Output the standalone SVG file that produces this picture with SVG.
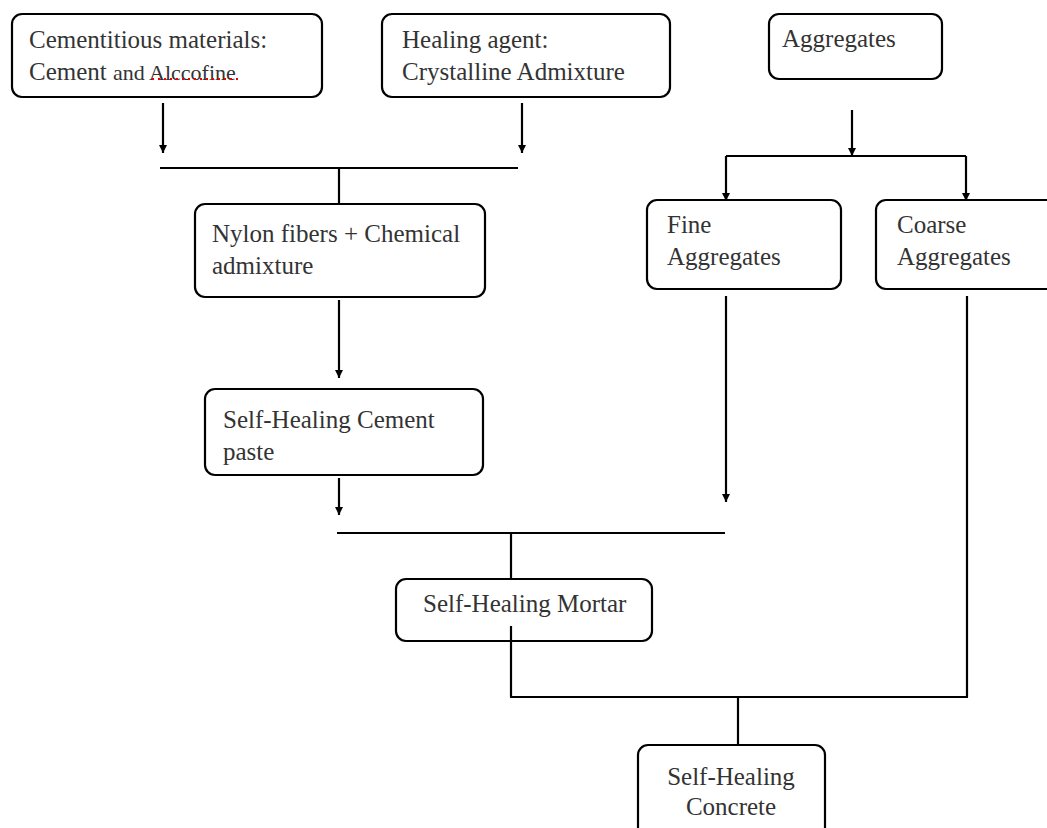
<svg xmlns="http://www.w3.org/2000/svg" width="1047" height="828" viewBox="0 0 1047 828">
<style>
.box{fill:#fff;stroke:#000;stroke-width:2.2}
.t{font-family:"Liberation Serif","Times New Roman",serif;font-size:25px;fill:#333}
.c{fill:none;stroke:#000;stroke-width:2.2}
</style>
<defs>
<marker id="ah" markerUnits="userSpaceOnUse" markerWidth="9" markerHeight="9" refX="8" refY="4.5" orient="auto">
<path d="M0,0.5 L8,4.5 L0,8.5 z" fill="#000"/>
</marker>
</defs>
<rect width="1047" height="828" fill="#fff"/>
<g id="cementitious">
<rect class="box" x="12" y="14" width="310" height="83" rx="10"/>
<text class="t" x="29" y="48">Cementitious materials:</text>
<text class="t" x="29" y="80">Cement <tspan font-size="22">and Alccofine</tspan></text>
<line x1="152" y1="79" x2="238" y2="79" stroke="#e00" stroke-width="2" stroke-dasharray="2,4"/>
</g>
<g id="healing">
<rect class="box" x="382" y="14" width="288" height="83" rx="10"/>
<text class="t" x="402" y="48">Healing agent:</text>
<text class="t" x="402" y="80">Crystalline Admixture</text>
</g>
<g id="aggregates">
<rect class="box" x="769" y="14" width="173" height="65" rx="10"/>
<text class="t" x="782" y="47">Aggregates</text>
</g>
<g id="fine">
<rect class="box" x="647" y="200" width="194" height="89" rx="10"/>
<text class="t" x="667" y="233">Fine</text>
<text class="t" x="667" y="265">Aggregates</text>
</g>
<g id="coarse">
<rect class="box" x="876" y="200" width="190" height="89" rx="10"/>
<text class="t" x="897" y="233">Coarse</text>
<text class="t" x="897" y="265">Aggregates</text>
</g>
<g id="nylon">
<rect class="box" x="195" y="204" width="290" height="93" rx="10"/>
<text class="t" x="212" y="242">Nylon fibers + Chemical</text>
<text class="t" x="212" y="274">admixture</text>
</g>
<g id="paste">
<rect class="box" x="205" y="389" width="278" height="86" rx="10"/>
<text class="t" x="223" y="428">Self-Healing Cement</text>
<text class="t" x="223" y="460">paste</text>
</g>
<g id="mortar">
<rect class="box" x="396" y="579" width="256" height="62" rx="10"/>
<text class="t" x="423" y="612">Self-Healing Mortar</text>
</g>
<g id="concrete">
<rect class="box" x="638" y="745" width="187" height="110" rx="10"/>
<text class="t" x="731" y="785" text-anchor="middle">Self-Healing</text>
<text class="t" x="731" y="815" text-anchor="middle">Concrete</text>
</g>
<g id="connectors">
<line class="c" x1="163" y1="103" x2="163" y2="153" marker-end="url(#ah)"/>
<line class="c" x1="522" y1="103" x2="522" y2="153" marker-end="url(#ah)"/>
<line class="c" x1="160" y1="168" x2="518" y2="168"/>
<line class="c" x1="339" y1="168" x2="339" y2="204"/>
<line class="c" x1="339" y1="300" x2="339" y2="378" marker-end="url(#ah)"/>
<line class="c" x1="339" y1="478" x2="339" y2="515" marker-end="url(#ah)"/>
<line class="c" x1="337" y1="533" x2="725" y2="533"/>
<line class="c" x1="511" y1="533" x2="511" y2="579"/>
<line class="c" x1="726" y1="296" x2="726" y2="502" marker-end="url(#ah)"/>
<line class="c" x1="852" y1="110" x2="852" y2="156" marker-end="url(#ah)"/>
<line class="c" x1="726" y1="156" x2="966" y2="156"/>
<line class="c" x1="726" y1="156" x2="726" y2="201" marker-end="url(#ah)"/>
<line class="c" x1="966" y1="156" x2="966" y2="201" marker-end="url(#ah)"/>
<line class="c" x1="967" y1="296" x2="967" y2="697"/>
<line class="c" x1="511" y1="626" x2="511" y2="697"/>
<line class="c" x1="510" y1="697" x2="968" y2="697"/>
<line class="c" x1="738" y1="697" x2="738" y2="745"/>
</g>
</svg>
